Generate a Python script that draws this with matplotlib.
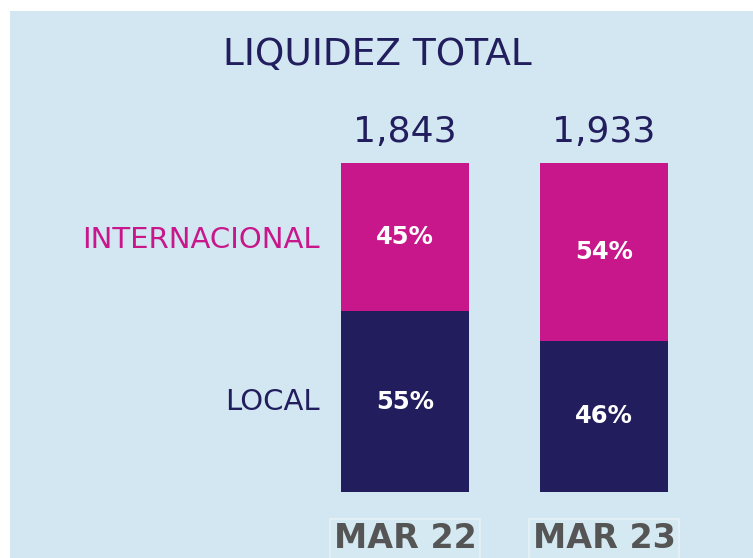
import matplotlib.pyplot as plt

# datos
periodos = ["MAR 22", "MAR 23"]
totales = ["1,843", "1,933"]
internacional = [45, 54]
local = [55, 46]

c_int = "#C8168B"
c_loc = "#221E5E"
fondo = "#D2E7F1"

fig = plt.figure(figsize=(7.53, 5.58), dpi=100)
fig.patch.set_facecolor("white")

# eje que cubre la zona azul (desde x=10px, y=11px)
ax = fig.add_axes([10 / 753, 0, 743 / 753, 547 / 558])
ax.set_facecolor(fondo)
ax.set_xlim(-1.985, 1.749)
ax.set_ylim(-20.06, 146.2)
for s in ax.spines.values():
    s.set_visible(False)
ax.set_xticks([])
ax.set_yticks([])

x = range(len(periodos))
ancho = 0.643
ax.bar(x, local, width=ancho, color=c_loc)
ax.bar(x, internacional, width=ancho, bottom=local, color=c_int)

for i in x:
    ax.text(i, local[i] / 2, f"{local[i]}%", color="white", fontsize=17.5,
            fontweight="bold", ha="center", va="center")
    ax.text(i, local[i] + internacional[i] / 2, f"{internacional[i]}%",
            color="white", fontsize=17.5, fontweight="bold", ha="center", va="center")
    ax.text(i, 109.4, totales[i], color=c_loc, fontsize=26,
            ha="center", va="center")
    ax.text(i, -14.2, periodos[i], color="#555555", fontsize=24, fontweight="bold",
            ha="center", va="center",
            bbox=dict(boxstyle="square,pad=0.1", facecolor="#D5E9F2",
                      edgecolor="#E4EFF5", linewidth=1.5))

# etiquetas de categorias
ax.text(-0.427, local[0] + internacional[0] / 2 - 1, "INTERNACIONAL", color=c_int,
        fontsize=21, ha="right", va="center")
ax.text(-0.427, local[0] / 2, "LOCAL", color=c_loc,
        fontsize=21, ha="right", va="center")

ax.text(-0.141, 132.8, "LIQUIDEZ TOTAL", color=c_loc, fontsize=27,
        ha="center", va="center")

plt.savefig("out.png", dpi=100)
